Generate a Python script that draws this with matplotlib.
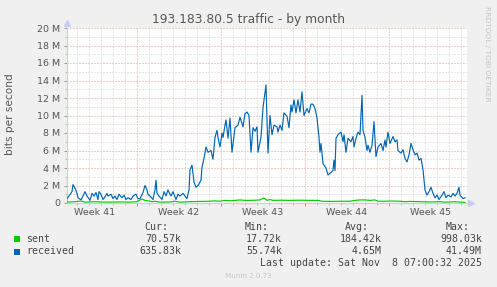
import matplotlib
matplotlib.use("Agg")
from matplotlib import pyplot as plt
from matplotlib.patches import Rectangle
import numpy as np

# hours since start of graph window, values in Mbit/s
recv_hours = [1, 5, 11, 13, 17, 21, 23, 29, 33, 37, 41, 47, 51, 55, 59, 63, 65, 69, 73, 77,
              81, 83, 89, 93, 97, 101, 105, 111, 115, 119, 123, 129, 133, 139, 143, 147, 153, 157, 161, 163,
              167, 173, 177, 179, 181, 185, 191, 195, 199, 203, 207, 209, 213, 219, 223, 227, 233, 237, 241, 245,
              247, 251, 255, 259, 263, 269, 271, 275, 279, 283, 289, 293, 297, 301, 303, 307, 311, 313, 317, 319,
              323, 327, 331, 337, 343, 347, 353, 357, 361, 365, 369, 373, 377, 381, 383, 389, 393, 399, 403, 407,
              411, 415, 421, 423, 427, 431, 435, 441, 445, 449, 451, 455, 459, 463, 467, 471, 475, 481, 485, 489,
              493, 497, 501, 505, 507, 509, 513, 519, 523, 529, 533, 535, 537, 539, 543, 549, 553, 555, 559, 563,
              569, 573, 575, 579, 583, 587, 591, 593, 597, 601, 603, 607, 611, 615, 619, 623, 629, 633, 637, 639,
              643, 647, 653, 657, 661, 663, 669, 673, 677, 681, 685, 689, 693, 697, 701, 705, 709, 713, 717, 721,
              725, 729, 733, 737, 741, 745, 751, 755, 759, 763, 769, 773, 777, 781, 785, 787, 793, 797]
received = [0.5, 0.8, 1.3, 2.1, 1.7, 1.1, 0.6, 0.35, 0.8, 1.3, 0.8, 0.3, 1.1, 0.8, 1.2, 0.4, 1.3, 1.0, 0.4, 0.7,
            1.1, 0.8, 1.0, 0.5, 0.8, 0.4, 1.0, 0.6, 0.9, 0.4, 0.6, 0.4, 0.8, 1.0, 0.5, 0.5, 1.2, 2.0, 1.5, 1.0,
            0.8, 0.4, 1.5, 2.6, 1.1, 0.8, 0.4, 1.3, 0.8, 1.5, 1.0, 0.8, 1.3, 0.4, 1.0, 0.8, 1.1, 0.8, 0.5, 1.5,
            3.8, 4.3, 2.4, 1.8, 2.0, 2.6, 4.1, 5.1, 6.4, 5.8, 6.0, 5.0, 7.5, 8.3, 7.5, 6.4, 8.0, 7.5, 8.9, 9.5,
            7.4, 9.7, 5.8, 8.6, 8.9, 9.8, 8.7, 10.2, 10.4, 10.0, 5.8, 8.6, 8.2, 8.7, 5.8, 7.5, 10.9, 13.5, 5.7, 10.0,
            7.8, 8.9, 8.7, 8.1, 8.9, 8.3, 10.3, 9.9, 8.6, 11.2, 10.4, 11.8, 10.3, 11.8, 10.4, 12.7, 10.0, 10.8, 10.3, 11.3,
            11.3, 10.8, 9.7, 7.5, 5.8, 6.8, 4.5, 4.0, 3.2, 3.5, 3.7, 4.9, 3.7, 7.4, 7.8, 8.1, 7.0, 7.8, 5.8, 7.4,
            7.0, 7.6, 6.4, 7.4, 8.1, 7.8, 12.3, 8.3, 7.5, 6.0, 6.6, 5.8, 6.6, 9.3, 5.3, 6.4, 6.8, 6.0, 7.2, 6.4,
            8.1, 6.8, 7.6, 7.0, 7.2, 6.0, 5.7, 6.1, 5.1, 4.7, 5.5, 6.8, 6.1, 5.5, 5.7, 4.9, 5.1, 3.8, 1.5, 0.9,
            1.3, 1.8, 1.1, 0.6, 0.9, 0.4, 0.9, 1.3, 0.6, 0.9, 0.7, 1.1, 0.8, 1.1, 1.8, 0.9, 0.5, 0.6]

sent_hours = [1, 17, 23, 31, 37, 57, 67, 87, 107, 127, 141, 147, 151, 157, 163, 171, 177, 187, 207, 217,
              227, 247, 267, 287, 297, 307, 317, 327, 337, 347, 357, 367, 377, 387, 393, 397, 401, 407, 413, 427,
              447, 467, 487, 503, 511, 527, 547, 567, 577, 587, 597, 607, 617, 623, 637, 647, 667, 677, 687, 707,
              727, 747, 757, 767, 777, 787, 797]
sent = [0.1, 0.15, 0.2, 0.2, 0.1, 0.15, 0.12, 0.1, 0.12, 0.1, 0.15, 0.35, 0.45, 0.3, 0.25, 0.15, 0.2, 0.1, 0.12, 0.2,
        0.1, 0.15, 0.18, 0.2, 0.25, 0.2, 0.3, 0.25, 0.3, 0.35, 0.3, 0.3, 0.32, 0.35, 0.55, 0.5, 0.3, 0.4, 0.3, 0.32,
        0.3, 0.32, 0.3, 0.3, 0.2, 0.18, 0.2, 0.2, 0.3, 0.35, 0.35, 0.3, 0.35, 0.2, 0.2, 0.22, 0.2, 0.15, 0.18, 0.15,
        0.12, 0.15, 0.1, 0.12, 0.15, 0.1, 0.07]

week_labels = ["Week 41", "Week 42", "Week 43", "Week 44", "Week 45"]
week_starts = [141, 309, 477, 645]  # hours of Monday 00:00

legend_rows = [("sent", "#00CC00", ["70.57k", "17.72k", "184.42k", "998.03k"]),
               ("received", "#0066B3", ["635.83k", "55.74k", "4.65M", "41.49M"])]
legend_heads = ["Cur:", "Min:", "Avg:", "Max:"]

W, H = 497, 287
BG = "#F0F0F0"
AXC = "#C8CCF4"


def fx(x):
	return x / W


def fy(y):
	return 1 - y / H


fig = plt.figure(figsize=(W / 100, H / 100), dpi=100, facecolor=BG)
ax = fig.add_axes([fx(66.5), fy(203), 400 / W, 175 / H])
ax.set_facecolor("white")

ax.plot(recv_hours, received, color="#0066B3", lw=0.85, zorder=3)
ax.plot(sent_hours, sent, color="#00CC00", lw=0.85, zorder=4)

ax.set_xlim(0, 800)
ax.set_ylim(0, 20)

# grid: minor gray dotted, major reddish dotted
dots = (0, (1, 2))
ax.set_yticks(np.arange(0, 21, 2))
ax.set_yticks(np.arange(1, 20, 2), minor=True)
ax.set_yticklabels(["0"] + ["%d M" % v for v in range(2, 21, 2)])
ax.set_xticks(week_starts)
ax.set_xticklabels([""] * len(week_starts))
ax.set_xticks([h for h in range(21, 800, 24) if h not in week_starts], minor=True)
ax.grid(which="minor", color="#CFCFCF", lw=0.72, linestyle=dots, zorder=0)
ax.grid(which="major", color="#E89A9A", lw=0.72, linestyle=dots, zorder=1)
ax.set_axisbelow(True)

ax.tick_params(axis="y", which="major", length=2.5, width=0.7, color="#999999",
	labelsize=6.8, labelcolor="#555555", pad=2)
ax.tick_params(axis="y", which="minor", length=1.5, width=0.7, color="#BBBBBB")
ax.tick_params(axis="x", which="major", length=2.5, width=0.7, color="#E08080", pad=0)
ax.tick_params(axis="x", which="minor", length=1.5, width=0.7, color="#BBBBBB")

for i, lab in enumerate(week_labels):
	ax.annotate(lab, xy=(141 - 84 + 168 * i, 0), xycoords=("data", "axes fraction"),
		xytext=(0, -7), textcoords="offset points", ha="center", va="center",
		fontsize=6.8, color="#555555", annotation_clip=False)

for side in ["top", "right"]:
	ax.spines[side].set_visible(False)
ax.spines["left"].set_color(AXC)
ax.spines["bottom"].set_color(AXC)
ax.spines["left"].set_linewidth(0.8)
ax.spines["bottom"].set_linewidth(0.8)
ax.plot([0], [1.03], marker="^", ms=4, color=AXC, transform=ax.transAxes, clip_on=False)
ax.plot([1.01], [0], marker=">", ms=4, color=AXC, transform=ax.transAxes, clip_on=False)

fig.text(fx(248), fy(19), "193.183.80.5 traffic - by month", ha="center", va="center",
	fontsize=8.8, color="#555555")
fig.text(fx(10), fy(114), "bits per second", rotation=90, ha="center", va="center",
	fontsize=7.6, color="#555555")
fig.text(fx(487.5), fy(54), "RRDTOOL / TOBI OETIKER", rotation=270, ha="center", va="center",
	fontsize=5.4, color="#C4C4C4")

mono = "DejaVu Sans Mono"
head_x = [168, 269, 369, 470]
val_x = [181, 282, 382, 482]
for hx, h in zip(head_x, legend_heads):
	fig.text(fx(hx), fy(227), h, ha="right", va="center", family=mono, fontsize=7.1, color="#444444")
for r, (name, col, vals) in enumerate(legend_rows):
	yy = 239 + 12.5 * r
	fig.patches.append(Rectangle((fx(14), fy(yy + 3)), 6 / W, 6 / H, transform=fig.transFigure,
		facecolor=col, edgecolor="none"))
	fig.text(fx(26), fy(yy), name, ha="left", va="center", family=mono, fontsize=7.1, color="#444444")
	for vx, v in zip(val_x, vals):
		fig.text(fx(vx), fy(yy), v, ha="right", va="center", family=mono, fontsize=7.1, color="#444444")

fig.text(fx(482), fy(263), "Last update: Sat Nov  8 07:00:32 2025", ha="right", va="center",
	family=mono, fontsize=7.1, color="#444444")
fig.text(fx(248), fy(276), "Munin 2.0.73", ha="center", va="center", fontsize=5.1, color="#C4C4C4")

fig.savefig("out.png", dpi=100, facecolor=BG)
